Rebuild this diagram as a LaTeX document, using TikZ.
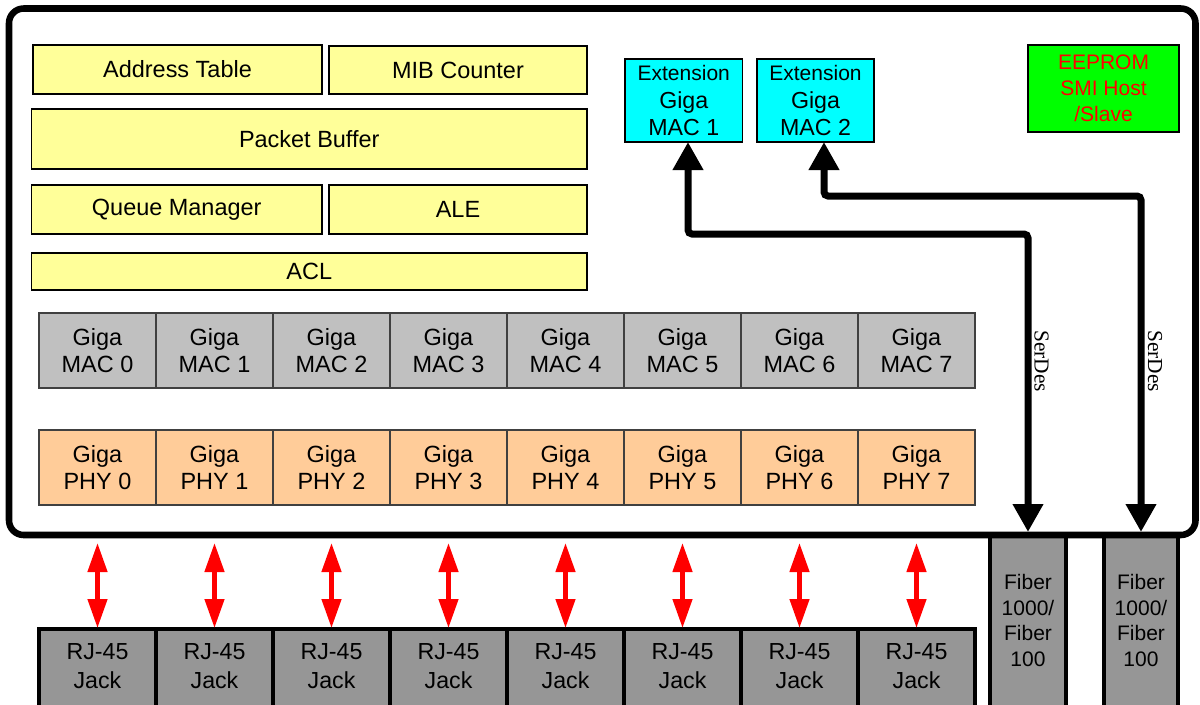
\documentclass[tikz,border=0pt]{standalone}
\usepackage{fontspec}
\setmainfont{Liberation Sans}
\newfontfamily\serdesfont{Liberation Serif}
\usetikzlibrary{arrows.meta}
\definecolor{ylw}{HTML}{FFFF99}
\definecolor{cyanbox}{HTML}{00FFFF}
\definecolor{greenbox}{HTML}{00FF00}
\definecolor{macgray}{HTML}{C0C0C0}
\definecolor{phyorange}{HTML}{FFCC99}
\definecolor{jackgray}{HTML}{969696}
\definecolor{cellborder}{HTML}{404040}
\newcommand\bx[7]{\node[#6, minimum width={(#4-#2)*0.75pt}, minimum height={(#5-#3)*0.75pt}] (#1) at ({(#2+#4)/2},{(#3+#5)/2}) {#7};}
\begin{document}
\begin{tikzpicture}[x=0.75pt,y=-0.75pt,
  every node/.style={inner sep=0pt, outer sep=0pt},
  mainbox/.style={draw=black, line width=4.9pt, rounded corners=11pt, fill=white},
  ybox/.style={draw=black, line width=1.1pt, fill=ylw, font=\fontsize{17.6}{20}\selectfont},
  extbox/.style={draw=black, line width=1.1pt, fill=cyanbox, align=center, font=\fontsize{17.4}{20.6}\selectfont},
  eebox/.style={draw=black, line width=1.1pt, fill=greenbox, align=center, text=red, font=\fontsize{15.75}{19.5}\selectfont},
  macbox/.style={draw=cellborder, line width=1.1pt, fill=macgray, align=center, font=\fontsize{17.6}{20.25}\selectfont},
  phybox/.style={draw=cellborder, line width=1.1pt, fill=phyorange, align=center, font=\fontsize{17.6}{20.25}\selectfont},
  jackbox/.style={draw=black, line width=2.6pt, fill=jackgray},
  jacktext/.style={align=center, font=\fontsize{17.4}{21.75}\selectfont},
  fibertext/.style={align=center, font=\fontsize{15.75}{19.1}\selectfont},
  redarr/.style={draw=red, line width=3.4pt, {Triangle[length=21.75pt,width=14.25pt]}-{Triangle[length=21.75pt,width=14.25pt]}, shorten <=28.5pt, shorten >=0.75pt},
  serdesarr/.style={draw=black, line width=5.25pt, rounded corners=3pt, {Triangle[length=21pt,width=21.75pt]}-{Triangle[length=21pt,width=21.75pt]}, shorten >=2.25pt},
  serdestext/.style={rotate=-90, font=\serdesfont\fontsize{16}{19}\selectfont}
]
\useasboundingbox (0,0) rectangle (1200,704);
\fill[white] (0,0) rectangle (1200,704);
% external boxes (below the chip border)
\bx{fib1}{990}{535}{1066}{725}{jackbox}{}
\bx{fib2}{1104}{535}{1178}{725}{jackbox}{}
\node[fibertext] (fibt1) at (1028,620.5) {Fiber\\1000/\\Fiber\\100};
\node[fibertext] (fibt2) at (1141,620.5) {Fiber\\1000/\\Fiber\\100};
\foreach \i in {0,...,7} {
  \pgfmathsetmacro\xa{39+117*\i}
  \pgfmathsetmacro\xb{39+117*(\i+1)}
  \bx{rj\i}{\xa}{629}{\xb}{725}{jackbox}{}
  \node[jacktext] (rjt\i) at ({(\xa+\xb)/2},666.5) {RJ-45\\Jack};
}
% chip
\bx{chip}{9}{8.5}{1195.5}{535}{mainbox}{}
\bx{addr}{33}{45}{322}{94}{ybox}{Address Table}
\bx{mib}{329}{46}{587}{94}{ybox}{MIB Counter}
\bx{pbuf}{31.5}{109}{587}{169}{ybox}{Packet Buffer}
\bx{qm}{31.5}{185}{322}{234}{ybox}{Queue Manager}
\bx{ale}{329}{185}{587}{234}{ybox}{ALE}
\bx{acl}{31.5}{253}{587}{290}{ybox}{ACL}
\bx{ext1}{625}{59}{742.5}{142}{extbox}{{\fontsize{15.75}{20.6}\selectfont Extension}\\Giga\\MAC 1}
\bx{ext2}{757}{59}{874}{142}{extbox}{{\fontsize{15.75}{20.6}\selectfont Extension}\\Giga\\MAC 2}
\bx{eeprom}{1028}{45}{1179}{132}{eebox}{EEPROM\\SMI Host\\/Slave}
\foreach \i in {0,...,7} {
  \pgfmathsetmacro\xa{39+117*\i}
  \pgfmathsetmacro\xb{39+117*(\i+1)}
  \bx{mac\i}{\xa}{313}{\xb}{388}{macbox}{Giga\\MAC \i}
  \bx{phy\i}{\xa}{430}{\xb}{505}{phybox}{Giga\\PHY \i}
}
% red links
\foreach \i in {0,...,7} {
  \draw[redarr] (phy\i.south) -- (rj\i.north);
}
% SerDes links
\draw[serdesarr] (ext1.south -| 688,0) |- (fib1.north |- 0,234) -- (fib1.north);
\draw[serdesarr] (ext2.south -| 824,0) |- (fib2.north |- 0,196) -- (fib2.north);
\node[serdestext] (sd1) at (1041.5,361) {SerDes};
\node[serdestext] (sd2) at (1155,361) {SerDes};
\end{tikzpicture}
\end{document}
